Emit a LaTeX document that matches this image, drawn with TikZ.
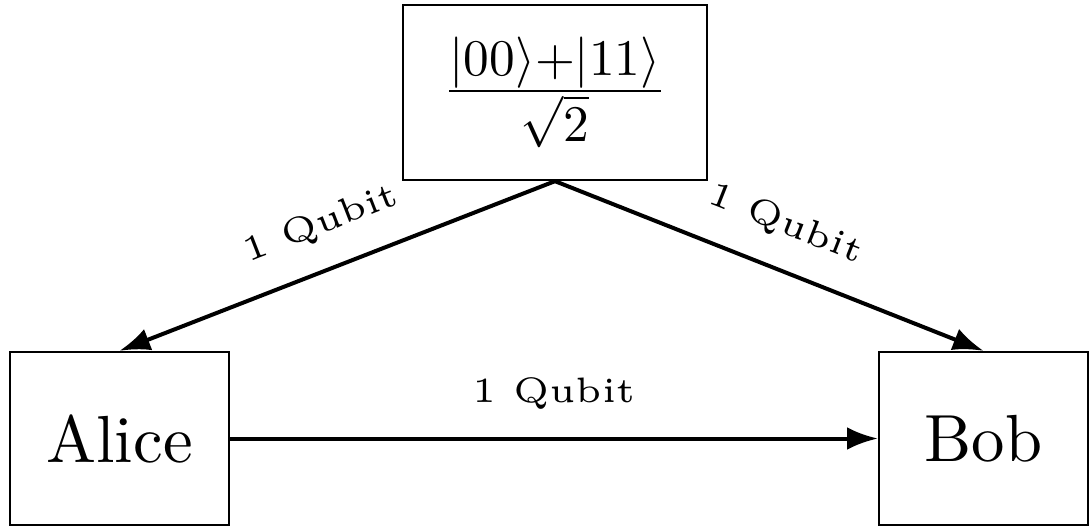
\documentclass[tikz,border=0pt]{standalone}
\usetikzlibrary{arrows.meta}
\begin{document}
\begin{tikzpicture}[x=0.15pt,y=-0.15pt,
  box/.style={draw, line width=0.35pt, inner sep=0pt, font=\fontsize{10}{12}\selectfont},
  conn/.style={-{Latex[length=4.6pt,width=3.4pt]}, line width=0.6pt},
  lbl/.style={font=\fontsize{5.3}{6.4}\selectfont, inner sep=4pt, midway, above, sloped}]
\useasboundingbox (0,0) rectangle (1091,527);
\node[box, minimum width=45.6pt, minimum height=26.25pt] (src) at (555,92.5) {\raisebox{0.3pt}{\scalebox{0.77}{$\frac{\textstyle|00\rangle{+}|11\rangle}{\textstyle\sqrt{2}}$}}};
\node[box, minimum width=32.85pt, minimum height=25.95pt] (alice) at (119.5,438.5) {Alice};
\node[box, minimum width=31.35pt, minimum height=25.95pt] (bob) at (983.5,438.5) {Bob};
\draw[conn] (src.south) -- node[lbl] {1 Qubit} (alice.north);
\draw[conn] (src.south) -- node[lbl] {1 Qubit} (bob.north);
\draw[conn] (alice.east) -- node[lbl] {1 Qubit} (bob.west);
\end{tikzpicture}
\end{document}
